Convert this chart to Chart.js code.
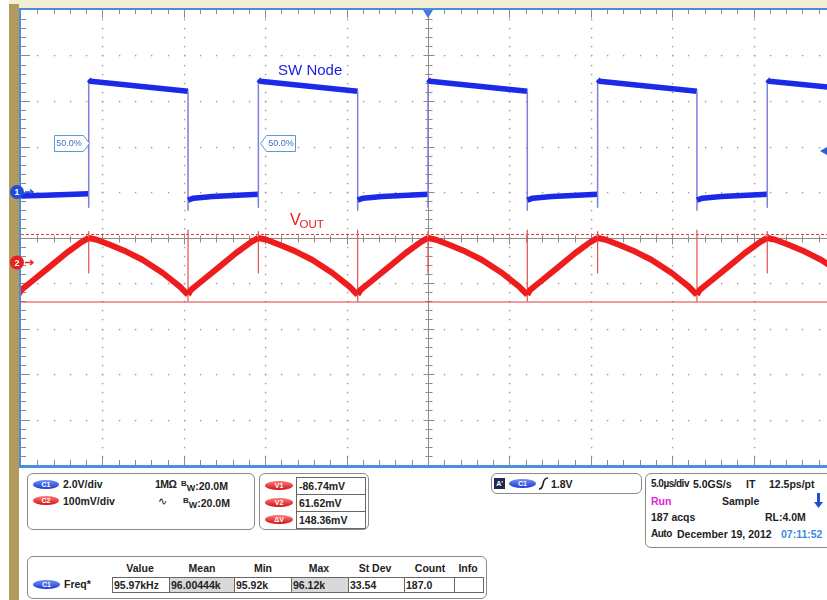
<!DOCTYPE html>
<html>
<head>
<meta charset="utf-8">
<script src="https://cdn.jsdelivr.net/npm/chart.js@4.4.0/dist/chart.umd.min.js"></script>
<style>
  body { margin: 0; background: #fff; }
  #page { position: relative; width: 827px; height: 600px; overflow: hidden; background: #fff;
          font-family: 'Liberation Sans', Arial, sans-serif; }
  #topStrip { position: absolute; left: 9px; top: 0; width: 818px; height: 8px; background: #f3eed6; }
  #tanBar { position: absolute; left: 9px; top: 4px; width: 10px; height: 596px; background: #b29b5d; }
  #scope { position: absolute; left: 0; top: 0; }
  .box { position: absolute; box-sizing: border-box; border: 1px solid #8a8a8a; border-radius: 6px; background: #fff; }
  .t { position: absolute; font-weight: bold; font-size: 10.5px; line-height: 12px; color: #222; white-space: nowrap; }
  .tight { font-size: 10px; letter-spacing: -0.5px; }
  .pill { position: absolute; height: 9px; border-radius: 50%; color: #fff; font-weight: bold; font-size: 7px;
          line-height: 9px; text-align: center; }
  .blue { background: linear-gradient(#7591f6, #1b3ccf); }
  .red { background: linear-gradient(#ff7d7d, #cf1414); }
  .cell { position: absolute; box-sizing: border-box; border: 1px solid #666; background: #fff; }
  .grey { background: #d9d9d9; }
  .hd { position: absolute; width: 60px; text-align: center; font-weight: bold; font-size: 10.5px; line-height: 12px; color: #222; }
</style>
</head>
<body>
<div id="page">
  <div id="topStrip"></div>
  <div id="tanBar"></div>
  <canvas id="scope" width="860" height="470"></canvas>

  <!-- channel settings -->
  <div class="box" style="left:27px;top:473px;width:228px;height:57px"></div>
  <div class="pill blue" style="left:33px;top:480px;width:26px">C1</div>
  <div class="t" style="left:63px;top:478px">2.0V/div</div>
  <div class="t" style="left:155px;top:478px;letter-spacing:-0.6px">1MΩ</div>
  <div class="t" style="left:181px;top:478px"><span style="font-size:8px;vertical-align:4px">B</span><span style="font-size:9px;vertical-align:-1px">W</span>:20.0M</div>
  <div class="pill red" style="left:33px;top:496px;width:26px">C2</div>
  <div class="t" style="left:63px;top:495px">100mV/div</div>
  <div class="t" style="left:158px;top:495px;font-weight:normal">∿</div>
  <div class="t" style="left:183px;top:495px"><span style="font-size:8px;vertical-align:4px">B</span><span style="font-size:9px;vertical-align:-1px">W</span>:20.0M</div>

  <!-- cursors -->
  <div class="box" style="left:259px;top:473px;width:110px;height:57px"></div>
  <div class="pill red" style="left:265px;top:481px;width:28px">V1</div>
  <div class="pill red" style="left:265px;top:498px;width:28px">V2</div>
  <div class="pill red" style="left:265px;top:515px;width:28px">ΔV</div>
  <div class="cell" style="left:296px;top:477px;width:70px;height:18px"></div>
  <div class="cell" style="left:296px;top:494px;width:70px;height:18px"></div>
  <div class="cell" style="left:296px;top:511px;width:70px;height:18px"></div>
  <div class="t" style="left:299px;top:480px">-86.74mV</div>
  <div class="t" style="left:299px;top:497px">61.62mV</div>
  <div class="t" style="left:299px;top:514px">148.36mV</div>

  <!-- trigger -->
  <div class="box" style="left:491px;top:473px;width:151px;height:21px"></div>
  <div style="position:absolute;left:494px;top:478px;width:11px;height:11px;background:#1d2a52;color:#fff;font-size:7px;font-weight:bold;line-height:11px;text-align:center">A'</div>
  <div class="pill blue" style="left:509px;top:479px;width:27px">C1</div>
  <svg style="position:absolute;left:538px;top:477px" width="11" height="13"><path d="M1 12 Q4 12 5 7 Q6 1 10 1" stroke="#222" stroke-width="1.6" fill="none"/></svg>
  <div class="t" style="left:551px;top:478px">1.8V</div>

  <!-- acquisition -->
  <div class="box" style="left:645px;top:473px;width:200px;height:75px"></div>
  <div class="t tight" style="left:651px;top:478px">5.0µs/div</div>
  <div class="t" style="left:693px;top:478px">5.0GS/s</div>
  <div class="t" style="left:746px;top:478px">IT</div>
  <div class="t" style="left:769px;top:478px">12.5ps/pt</div>
  <div class="t" style="left:651px;top:495px;color:#e01fd6">Run</div>
  <div class="t" style="left:722px;top:495px">Sample</div>
  <svg style="position:absolute;left:814px;top:493px" width="9" height="16"><rect x="3" y="0" width="3" height="10" fill="#1f4fd0"/><path d="M0 9 L9 9 L4.5 15 Z" fill="#1f4fd0"/></svg>
  <div class="t" style="left:651px;top:511px">187 acqs</div>
  <div class="t" style="left:765px;top:511px">RL:4.0M</div>
  <div class="t tight" style="left:651px;top:528px">Auto</div>
  <div class="t" style="left:677px;top:528px">December 19, 2012</div>
  <div class="t" style="left:781px;top:528px;color:#3a8ae0">07:11:52</div>

  <!-- measurement table -->
  <div class="box" style="left:27px;top:556px;width:460px;height:43px"></div>
  <div class="hd" style="left:110px;top:562px">Value</div>
  <div class="hd" style="left:172px;top:562px">Mean</div>
  <div class="hd" style="left:233px;top:562px">Min</div>
  <div class="hd" style="left:289px;top:562px">Max</div>
  <div class="hd" style="left:345px;top:562px">St Dev</div>
  <div class="hd" style="left:400px;top:562px">Count</div>
  <div class="hd" style="left:438px;top:562px">Info</div>
  <div class="pill blue" style="left:33px;top:580px;width:27px">C1</div>
  <div class="t" style="left:64px;top:578px">Freq*</div>
  <div class="cell" style="left:112px;top:577px;width:58px;height:16px"></div>
  <div class="cell grey" style="left:169px;top:577px;width:66px;height:16px"></div>
  <div class="cell" style="left:234px;top:577px;width:58px;height:16px"></div>
  <div class="cell grey" style="left:291px;top:577px;width:58px;height:16px"></div>
  <div class="cell" style="left:348px;top:577px;width:57px;height:16px"></div>
  <div class="cell" style="left:404px;top:577px;width:51px;height:16px"></div>
  <div class="cell" style="left:454px;top:577px;width:30px;height:16px"></div>
  <div class="t" style="left:114px;top:579px">95.97kHz</div>
  <div class="t" style="left:171px;top:579px">96.00444k</div>
  <div class="t" style="left:236px;top:579px">95.92k</div>
  <div class="t" style="left:293px;top:579px">96.12k</div>
  <div class="t" style="left:350px;top:579px">33.54</div>
  <div class="t" style="left:406px;top:579px">187.0</div>
</div>

<script>
// time axis, 5 µs/div, trigger in the middle
const timeMin = -25, timeMax = 25;
// C1 2.0 V/div, ground one division above centre
const ch1Min = -12, ch1Max = 8;
// C2 100 mV/div
const ch2Min = -445, ch2Max = 555;

// SW node (C1), µs / V
const swTime = [-25.0, -23.5, -20.84, -20.84, -20.84, -20.72,
  -14.74, -14.74, -14.74, -14.40, -13.24, -10.42, -10.42, -10.42, -10.30,
  -4.32, -4.32, -4.32, -3.98, -2.82, 0, 0, 0, 0.12,
  6.10, 6.10, 6.10, 6.44, 7.60, 10.42, 10.42, 10.42, 10.54,
  16.52, 16.52, 16.52, 16.86, 18.02, 20.84, 20.84, 20.84, 20.96,
  25.5];
const swVolts = [-0.18, -0.14, -0.08, -0.67, 4.95, 4.87,
  4.43, -0.80, -0.36, -0.27, -0.20, -0.10, -0.67, 4.95, 4.87,
  4.43, -0.80, -0.36, -0.27, -0.20, -0.10, -0.67, 4.95, 4.87,
  4.43, -0.80, -0.36, -0.27, -0.20, -0.10, -0.67, 4.95, 4.87,
  4.43, -0.80, -0.36, -0.27, -0.20, -0.10, -0.67, 4.95, 4.87,
  4.55];

// VOUT ripple (C2), µs / mV
const outTime = [-25.16, -24.98, -24.46, -23.26, -22.21, -21.29,
  -20.84, -20.84, -20.84, -20.84, -20.34, -19.54, -18.54, -17.54, -16.29, -15.24,
  -14.74, -14.74, -14.74, -14.74, -14.56, -14.04, -12.84, -11.79, -10.87,
  -10.42, -10.42, -10.42, -10.42, -9.92, -9.12, -8.12, -7.12, -5.87, -4.82,
  -4.32, -4.32, -4.32, -4.32, -4.14, -3.62, -2.42, -1.37, -0.45,
  0, 0, 0, 0, 0.5, 1.3, 2.3, 3.3, 4.55, 5.6,
  6.1, 6.1, 6.1, 6.1, 6.28, 6.8, 8.0, 9.05, 9.97,
  10.42, 10.42, 10.42, 10.42, 10.92, 11.72, 12.72, 13.72, 14.97, 16.02,
  16.52, 16.52, 16.52, 16.52, 16.70, 17.22, 18.42, 19.47, 20.39,
  20.84, 20.84, 20.84, 20.84, 21.34, 22.14, 23.14, 24.14, 25.39];
const outMv = [-71, -60, -45, -10, 21, 45,
  54, 68, -23, 54, 50, 39, 24, 6, -23, -53,
  -71, 71, -85, -71, -60, -45, -10, 21, 45,
  54, 68, -23, 54, 50, 39, 24, 6, -23, -53,
  -71, 71, -85, -71, -60, -45, -10, 21, 45,
  54, 68, -23, 54, 50, 39, 24, 6, -23, -53,
  -71, 71, -85, -71, -60, -45, -10, 21, 45,
  54, 68, -23, 54, 50, 39, 24, 6, -23, -53,
  -71, 71, -85, -71, -60, -45, -10, 21, 45,
  54, 68, -23, 54, 50, 39, 24, 6, -23];

// cursors (mV) and trigger
const cursorV1 = -86.74, cursorV2 = 61.62;
const trigLevel = 1.8;
const refLevel = 2.15;            // 50.0% marks
const refEdges = [-20.84, -10.42];

const FONT = "'Liberation Sans', Arial, sans-serif";

// vertical steps drawn thin like the scope does
const thinEdge = (thin, thick) => (c) => c.p0.parsed.x === c.p1.parsed.x ? thin : thick;

const graticule = {
  id: 'graticule',
  beforeDatasetsDraw(chart) {
    const {ctx, chartArea: a, scales: {x, y}} = chart;
    const xp = (k) => Math.round(x.getPixelForValue(timeMin + k * (timeMax - timeMin) / 50)) + 0.5;
    const yp = (k) => Math.round(y.getPixelForValue(ch1Max - k * (ch1Max - ch1Min) / 50)) + 0.5;
    ctx.save();
    ctx.fillStyle = '#fff';
    ctx.fillRect(a.left, a.top, a.right - a.left, a.bottom - a.top);

    // dotted divisions
    ctx.fillStyle = '#9c9c9c';
    for (let d = 1; d < 10; d++) {
      if (d === 5) continue;
      for (let k = 1; k < 50; k++) {
        ctx.fillRect(xp(d * 5) - 0.6, yp(k) - 0.6, 1.4, 1.4);
        ctx.fillRect(xp(k) - 0.6, yp(d * 5) - 0.6, 1.4, 1.4);
      }
    }

    ctx.strokeStyle = '#8c8c8c';
    ctx.lineWidth = 1;
    ctx.beginPath();
    // centre cross
    const cx = xp(25), cy = yp(25);
    ctx.moveTo(cx, a.top); ctx.lineTo(cx, a.bottom);
    ctx.moveTo(a.left, cy); ctx.lineTo(a.right, cy);
    for (let k = 1; k < 50; k++) {
      const h = k % 5 === 0 ? 5 : 3;
      ctx.moveTo(cx - h, yp(k)); ctx.lineTo(cx + h + 1, yp(k));
      ctx.moveTo(xp(k), cy - h); ctx.lineTo(xp(k), cy + h + 1);
      // edge ticks
      const e = k % 5 === 0 ? 9 : 5;
      ctx.moveTo(xp(k), a.top); ctx.lineTo(xp(k), a.top + e - 1);
      ctx.moveTo(xp(k), a.bottom); ctx.lineTo(xp(k), a.bottom - e);
      ctx.moveTo(a.left, yp(k)); ctx.lineTo(a.left + e, yp(k));
    }
    ctx.stroke();
    ctx.restore();
  },
  afterDatasetsDraw(chart) {
    const {ctx, chartArea: a, scales: {x, y, y2}} = chart;
    ctx.save();

    // frame
    ctx.strokeStyle = '#4c8edc';
    ctx.lineWidth = 2;
    ctx.beginPath();
    ctx.moveTo(a.left - 1, a.bottom + 2); ctx.lineTo(a.left - 1, a.top - 1); ctx.lineTo(a.right + 2, a.top - 1);
    ctx.stroke();
    ctx.lineWidth = 3;
    ctx.beginPath();
    ctx.moveTo(a.left - 2, a.bottom + 1.5); ctx.lineTo(a.right + 2, a.bottom + 1.5);
    ctx.stroke();

    // trigger position and level
    const tx = x.getPixelForValue(0);
    ctx.fillStyle = '#3b7de0';
    ctx.beginPath();
    ctx.moveTo(tx - 5, a.top); ctx.lineTo(tx + 5, a.top); ctx.lineTo(tx, a.top + 8); ctx.closePath();
    ctx.fill();
    const ty = y.getPixelForValue(trigLevel);
    ctx.fillStyle = '#2a5fe0';
    ctx.beginPath();
    ctx.moveTo(a.right - 15, ty); ctx.lineTo(a.right - 8, ty - 4); ctx.lineTo(a.right - 8, ty + 4); ctx.closePath();
    ctx.fill();

    // channel ground markers
    const marker = (py, fill, label) => {
      ctx.fillStyle = fill;
      ctx.beginPath(); ctx.arc(a.left - 4, py, 7, 0, Math.PI * 2); ctx.fill();
      ctx.fillStyle = '#fff';
      ctx.font = 'bold 9px ' + FONT;
      ctx.textAlign = 'center'; ctx.textBaseline = 'middle';
      ctx.fillText(label, a.left - 4, py + 0.5);
      ctx.strokeStyle = fill; ctx.lineWidth = 1.5;
      ctx.beginPath(); ctx.moveTo(a.left + 4, py); ctx.lineTo(a.left + 11, py); ctx.stroke();
      ctx.beginPath(); ctx.moveTo(a.left + 9, py - 2.5); ctx.lineTo(a.left + 12, py); ctx.lineTo(a.left + 9, py + 2.5); ctx.stroke();
    };
    marker(y.getPixelForValue(0), '#1f4fd8', '1');
    marker(y2.getPixelForValue(0), '#e42020', '2');

    // 50.0% reference tags
    const ry = Math.round(y.getPixelForValue(refLevel)) + 0.5;
    ctx.font = '9px ' + FONT;
    ctx.textBaseline = 'middle'; ctx.textAlign = 'center';
    refEdges.forEach((t, i) => {
      const tip = Math.round(x.getPixelForValue(t)) + (i === 0 ? 0 : 2) + 0.5;
      const dir = i === 0 ? -1 : 1;
      const body = tip + dir * 6, end = tip + dir * 35;
      ctx.fillStyle = '#fff';
      ctx.strokeStyle = '#5b9bd5'; ctx.lineWidth = 1;
      ctx.beginPath();
      ctx.moveTo(tip, ry); ctx.lineTo(body, ry - 8); ctx.lineTo(end, ry - 8);
      ctx.lineTo(end, ry + 8); ctx.lineTo(body, ry + 8); ctx.closePath();
      ctx.fill(); ctx.stroke();
      ctx.fillStyle = '#3b6fc2';
      ctx.fillText('50.0%', (body + end) / 2, ry + 0.5);
    });

    // trace names
    ctx.textAlign = 'left'; ctx.textBaseline = 'alphabetic';
    ctx.fillStyle = '#1c1ce4';
    ctx.font = '15px ' + FONT;
    ctx.fillText('SW Node', x.getPixelForValue(-9.21), y.getPixelForValue(5.13));
    const vx = x.getPixelForValue(-8.48), vy = y2.getPixelForValue(82);
    ctx.fillStyle = '#ea1c1c';
    ctx.font = '16px ' + FONT;
    ctx.fillText('V', vx, vy);
    const vw = ctx.measureText('V').width;
    ctx.font = '11.5px ' + FONT;
    ctx.fillText('OUT', vx + vw - 1, vy + 3);
    ctx.restore();
  }
};

new Chart(document.getElementById('scope'), {
  type: 'line',
  data: {
    datasets: [
      {
        label: 'SW Node',
        data: swTime.map((t, i) => ({x: t, y: swVolts[i]})),
        yAxisID: 'y',
        borderColor: '#1a2ae8',
        borderWidth: 5.5,
        segment: {
          borderWidth: thinEdge(1.5, undefined),
          borderColor: thinEdge('#7f7fdc', undefined)
        }
      },
      {
        label: 'VOUT',
        data: outTime.map((t, i) => ({x: t, y: outMv[i]})),
        yAxisID: 'y2',
        borderColor: '#ee1c1c',
        borderWidth: 6,
        segment: {
          borderWidth: thinEdge(1.2, undefined),
          borderColor: thinEdge('#e65050', undefined)
        }
      },
      {
        label: 'V1',
        data: [{x: timeMin, y: cursorV1}, {x: timeMax, y: cursorV1}],
        yAxisID: 'y2',
        borderColor: '#e23a3a',
        borderWidth: 1.2
      },
      {
        label: 'V2',
        data: [{x: timeMin, y: cursorV2}, {x: timeMax, y: cursorV2}],
        yAxisID: 'y2',
        borderColor: '#e23a3a',
        borderWidth: 1,
        borderDash: [3, 2]
      }
    ]
  },
  options: {
    responsive: false,
    animation: false,
    events: [],
    layout: {padding: {left: 21, top: 10, right: 25, bottom: 5}},
    elements: {
      point: {radius: 0},
      line: {tension: 0, borderJoinStyle: 'round', borderCapStyle: 'butt', fill: false}
    },
    datasets: {line: {clip: 0}},
    plugins: {legend: {display: false}, tooltip: {enabled: false}},
    scales: {
      x: {type: 'linear', min: timeMin, max: timeMax, display: false},
      y: {min: ch1Min, max: ch1Max, display: false},
      y2: {min: ch2Min, max: ch2Max, display: false}
    }
  },
  plugins: [graticule]
});
</script>
</body>
</html>
